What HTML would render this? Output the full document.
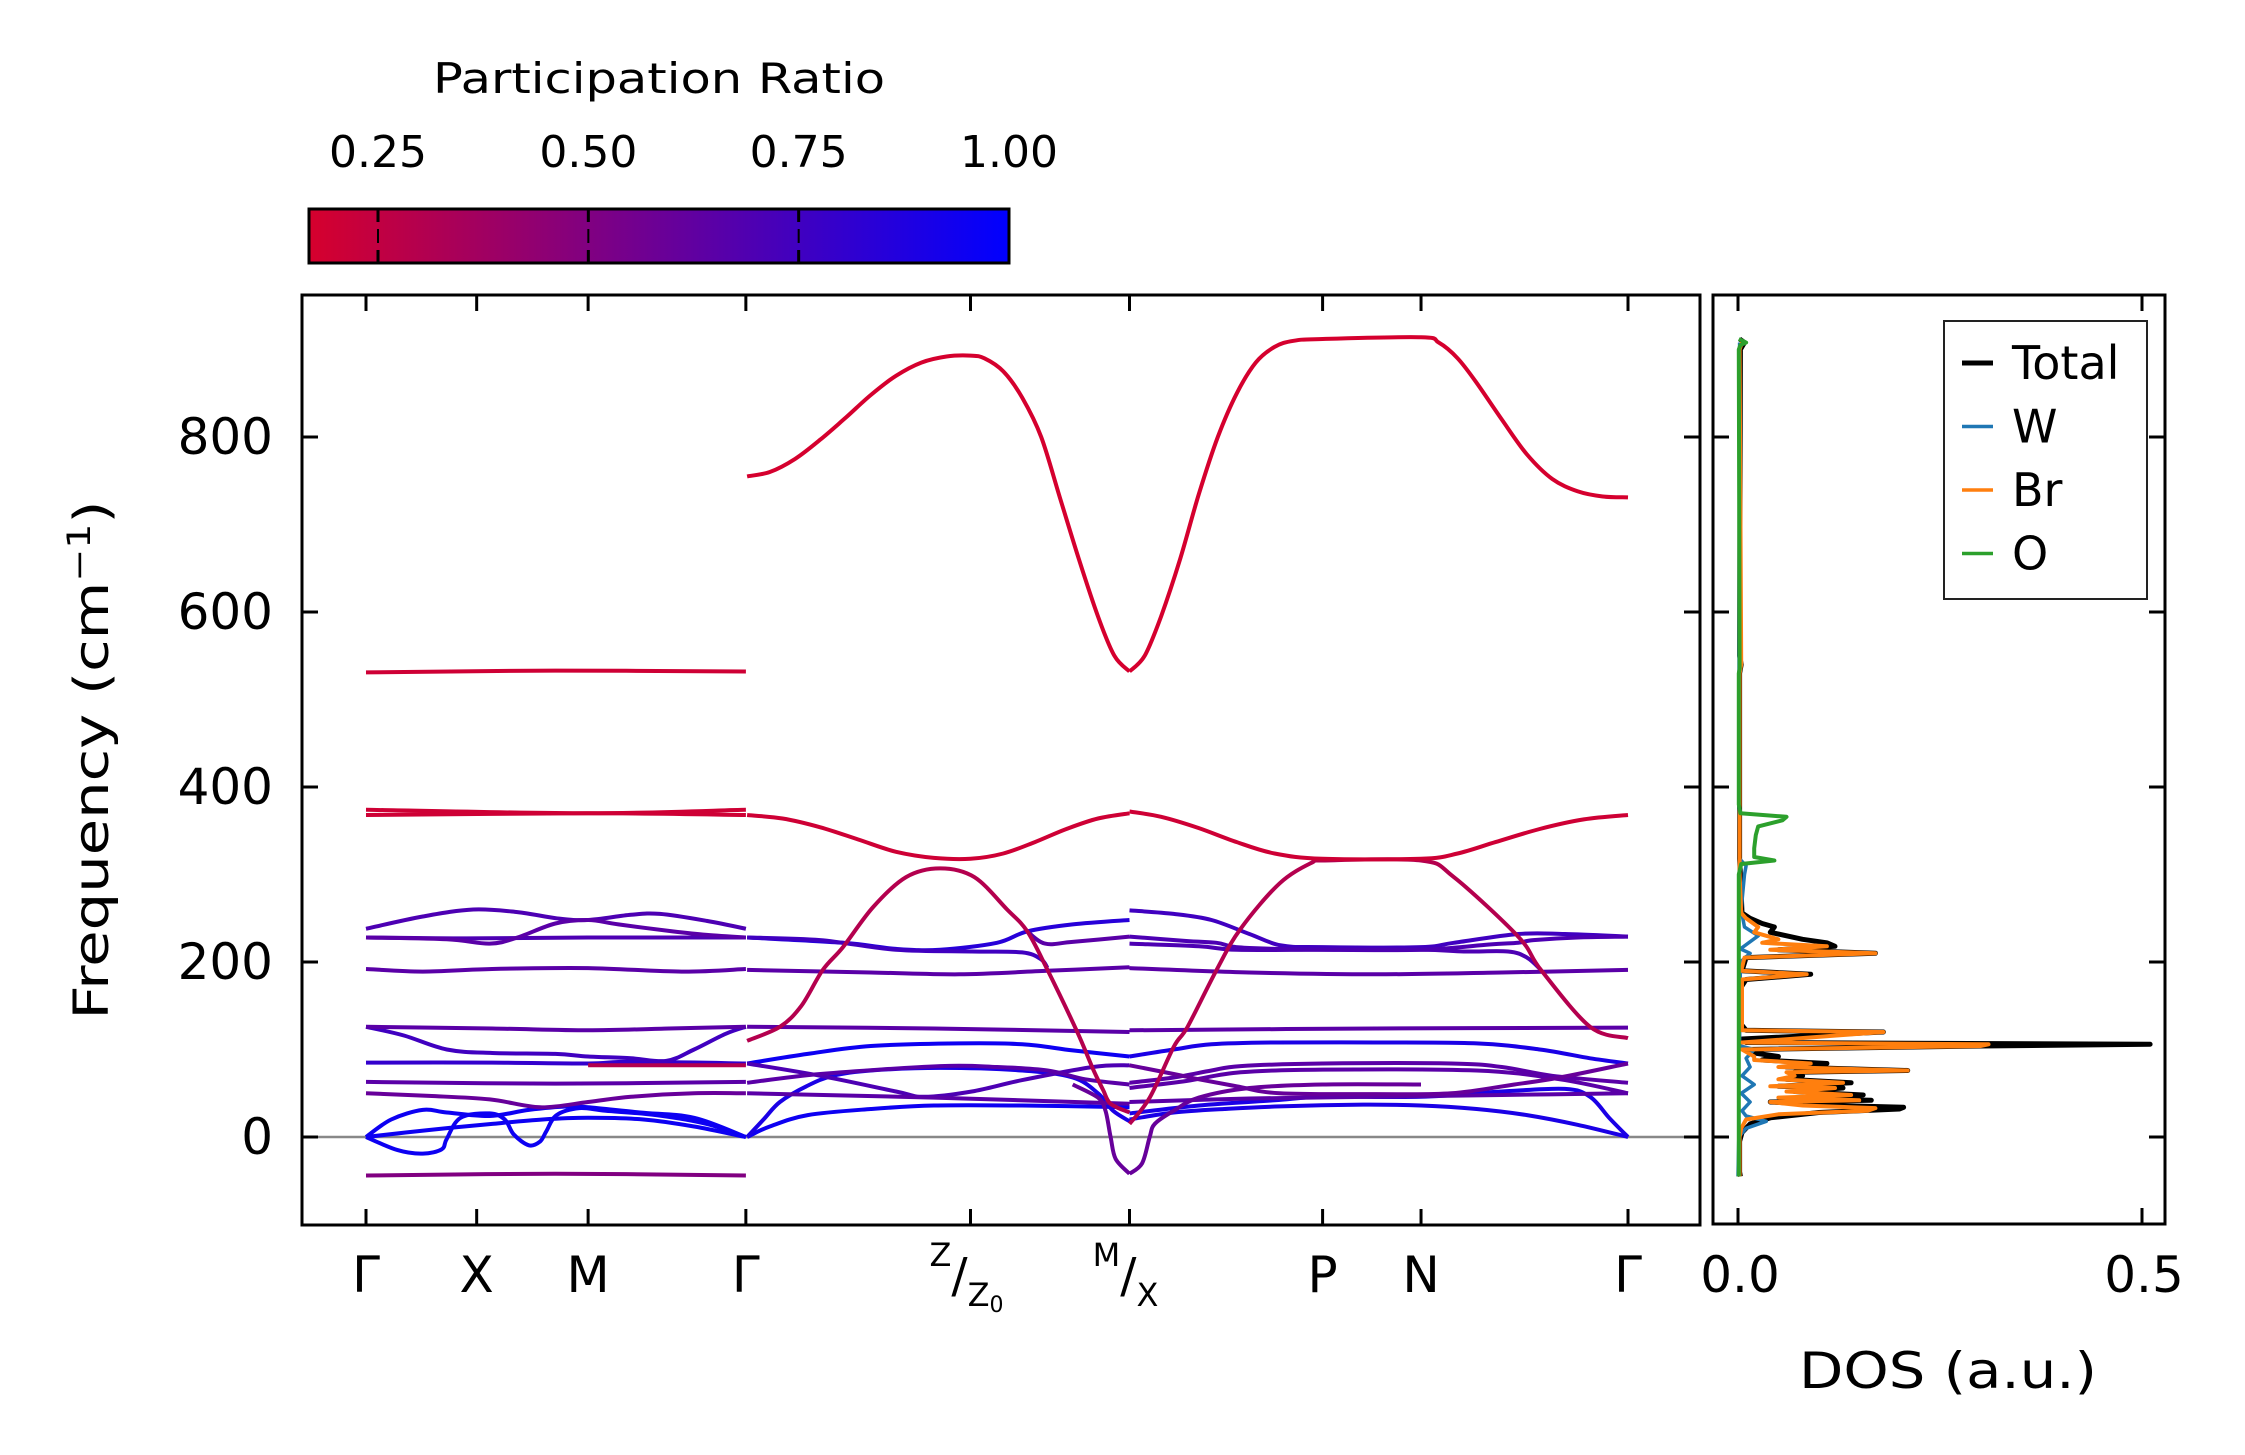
<!DOCTYPE html>
<html><head><meta charset="utf-8"><style>
html,body{margin:0;padding:0;background:#fff;}
svg{display:block;font-family:"DejaVu Sans","Liberation Sans",sans-serif;}
</style></head><body>
<svg id="chart" width="2245" height="1455" viewBox="0 0 2245 1455" xmlns="http://www.w3.org/2000/svg">
<rect width="2245" height="1455" fill="#fff"/>
<defs>
<linearGradient id="cbgrad" x1="0" x2="1" y1="0" y2="0">
<stop offset="0" stop-color="rgb(214,0,45)"/>
<stop offset="0.5" stop-color="rgb(107,0,150)"/>
<stop offset="1" stop-color="rgb(0,0,255)"/>
</linearGradient>
<clipPath id="mainclip"><rect x="302" y="295" width="1398" height="930"/></clipPath>
<clipPath id="dosclip"><rect x="1713" y="295" width="452" height="929"/></clipPath>
</defs>
<g id="colorbar">
<text x="659" y="93" font-size="42" text-anchor="middle" textLength="452" lengthAdjust="spacingAndGlyphs">Participation Ratio</text>
<rect x="309" y="209" width="700" height="54" fill="url(#cbgrad)" stroke="#000" stroke-width="3"/>
<g id="cbticks"></g>
</g>
<g id="main">
<line x1="302" x2="1700" y1="1137" y2="1137" stroke="#888" stroke-width="2.5"/>
<g id="bands" clip-path="url(#mainclip)"></g>
<rect x="302" y="295" width="1398" height="930" fill="none" stroke="#000" stroke-width="3"/>
<g id="mainticks"></g>
<text transform="translate(108,760) rotate(-90)" font-size="48" text-anchor="middle" textLength="519" lengthAdjust="spacingAndGlyphs">Frequency (cm<tspan font-size="32" dy="-18">−1</tspan><tspan dy="18">)</tspan></text>
</g>
<g id="dos">
<g id="doslines" clip-path="url(#dosclip)"></g>
<rect x="1713" y="295" width="452" height="929" fill="none" stroke="#000" stroke-width="3"/>
<g id="dosticks"></g>
<text x="1948" y="1388" font-size="50" text-anchor="middle" textLength="298" lengthAdjust="spacingAndGlyphs">DOS (a.u.)</text>
<g>
<rect x="1944" y="321" width="203" height="278" fill="#fff" stroke="#222" stroke-width="2"/>
<g id="legend"></g>
</g>
</g>
</svg>
<script>
// ---------- data ----------
const kLabels = ["Γ","X","M","Γ","Z/Z0","M/X","P","N","Γ"];
const kTicks = [0, 8.77, 17.6, 30.1, 47.9, 60.5, 75.8, 83.6, 100];
const freqTicks = [0, 200, 400, 600, 800];
const cbTicks = [0.25, 0.5, 0.75, 1.0];
const cbTickLabels = ["0.25","0.50","0.75","1.00"];
const dosTicks = [0.0, 0.5];
const dosTickLabels = ["0.0","0.5"];

// band knots: [q, frequency]; one participation ratio per band
const band01 = [[0,531],[15,533],[30.1,532]];
const band02 = [[0,374],[17.6,370],[30.1,374]];
const band03 = [[0,368],[17.6,370],[30.1,368]];
const band04 = [[0,238],[4.5,252],[8.5,260],[12,257],[15.1,250],[17.6,248],[21,254],[23.3,255],[27,247],[30.1,238]];
const band05 = [[0,228],[6.4,226],[9.8,221],[12,228],[15,244],[17.6,248],[20,243],[24.3,235],[27,231],[30.1,228]];
const band06 = [[0,228],[8,227],[17.6,228],[30.1,228]];
const band07 = [[0,192],[4.5,189],[10,192],[17.6,193],[25,189],[30.1,192]];
const band08 = [[0,126],[10,124],[17.6,122],[24,124],[30.1,126]];
const band09 = [[0,126],[3,116],[6.4,100],[10,96],[15,95],[17.6,92],[21,90],[23.8,87],[26,100],[28.5,118],[30.1,126]];
const band10 = [[0,85],[10,85],[17.6,84],[21,86],[30.1,84]];
const band11 = [[17.6,82],[24,82],[30.1,82]];
const band12 = [[0,63],[15,61],[30.1,63]];
const band13 = [[0,50],[5,47],[9.8,43],[13.8,34],[17.6,40],[21,46],[26,50],[30.1,50]];
const band14 = [[0,0],[2,20],[4.5,31],[6.4,28],[9.8,24],[12.9,31],[16,35],[17.6,34],[21.7,28],[26,22],[30.1,0]];
const band15 = [[0,0],[2.5,-15],[4.5,-19],[6,-14],[6.4,-2],[7.5,22],[9.8,27],[11,20],[11.7,3],[12.9,-9.5],[13.8,-5],[14.3,7],[15.1,25],[16.9,33],[19,30],[23,25],[27,15],[30.1,0]];
const band16 = [[0,0],[5,8],[10,15],[14,20],[17.6,22],[22,20],[26,12],[30.1,0]];
const band17 = [[0,-44],[15,-42],[30.1,-44]];
// Γ - Z - M
const band18 = [[30.2,755],[32,760],[34,775],[36,797],[38,822],[40,848],[42,870],[44,885],[46,892],[47.9,893],[49,890],[50.5,875],[52,845],[53.5,800],[55,730],[56.5,660],[58,595],[59.3,550],[60.5,532]];
const band19 = [[30.2,368],[33,364],[36,354],[39,340],[42,326],[45,319],[47.9,318],[50.5,324],[53,337],[55.5,352],[58,364],[60.5,370]];
const band20 = [[30.2,110],[32.8,126],[34.5,150],[36.2,191],[37.8,217],[40.2,263],[42.8,297],[45.5,307],[48.2,297],[50.8,260],[52.4,235],[54,191],[56.3,122],[57.6,78],[58.4,54],[59,38],[60.5,28]];
const band21 = [[30.2,228],[37.8,222],[42,215],[45.5,214],[50,222],[52.4,235],[56,243],[60.5,248]];
const band22 = [[30.2,228],[36,225],[42,214],[48,212],[52,211],[53.5,203],[54,193]];
const band23 = [[52.4,235],[53.8,221],[56,223],[60.5,229]];
const band24 = [[30.2,191],[40,188],[47,186],[54,190],[60.5,194]];
const band25 = [[30.2,126],[45,124],[60.5,120]];
const band26 = [[30.2,84],[35,95],[40,104],[47,107],[52,106],[56,99],[60.5,92]];
const band27 = [[30.2,84],[36,70],[42,52],[44.2,46],[48,52],[52,65],[57.6,80],[60.5,82]];
const band28 = [[30.2,62],[36,72],[45.5,81],[50,80],[54,76],[57,66],[60.5,60]];
const band29 = [[30.2,50],[45,45],[60.5,38]];
const band30 = [[30.2,0],[32,12],[35,25],[40,32],[45,36],[52,36],[60.5,34]];
const band31 = [[30.2,0],[31.5,20],[32.8,40],[34.9,58],[37,70],[40,76],[45.5,79],[52,76],[56,68],[58,50],[59.2,30],[60.5,18]];
const band32 = [[56,60],[58,45],[58.6,30],[59,0],[59.4,-25],[60.5,-42]];
// X - P - N - Γ
const band33 = [[60.5,532],[61.7,550],[63,595],[64.5,660],[66,735],[67.5,800],[69,850],[70.5,885],[72,903],[73.5,910],[75.8,912],[83.6,914],[85,908],[86.5,890],[88,862],[90,820],[92,780],[94,752],[96,738],[98,732],[100,731]];
const band34 = [[60.5,372],[63,366],[66,353],[69,337],[72,324],[75.8,318],[83.6,318],[86.5,324],[89.5,337],[93,352],[96.5,363],[100,368]];
const band35 = [[60.5,15],[62.1,45],[64,103],[65.1,126],[67.4,191],[69.3,238],[72.4,290],[75,314],[75.8,316],[83.6,316],[86.2,297],[91.3,229],[93.1,191],[97,126],[100,113]];
const band36 = [[60.5,259],[64,255],[67,248],[70,232],[72.5,219],[75.8,217],[83.6,217],[86.2,222],[91.3,232],[95,232],[100,229]];
const band37 = [[60.5,229],[65,224],[67.4,222],[68.5,218],[70,216],[75.8,214],[83.6,214],[89,220],[91.3,222],[92.5,225],[96,228],[100,229]];
const band38 = [[60.5,221],[66,218],[69,214],[75.8,214],[83.6,214],[87,212],[90.5,212],[92,205],[93.1,191]];
const band39 = [[60.5,193],[70,188],[80,186],[90,188],[100,191]];
const band40 = [[60.5,122],[80,124],[100,125]];
const band41 = [[60.5,92],[64,100],[67,106],[72,108],[80,108],[88,107],[93,100],[97,90],[100,84]];
const band42 = [[60.5,82],[64,72],[66,66],[69,58],[72.4,50],[80,49],[86,50],[91,60],[94.6,68],[100,84]];
const band43 = [[60.5,62],[64,68],[67,76],[69.3,81],[75.8,84],[86,84],[90,80],[94,70],[100,62]];
const band44 = [[60.5,56],[65,64],[69.3,74],[75.8,77],[88,76],[94.6,66],[100,50]];
const band45 = [[60.5,40],[70,44],[80,46],[90,48],[100,50]];
const band46 = [[60.5,20],[64,28],[68,32],[72.4,35],[79,37],[83.6,36],[88,32],[92,25],[96,14],[100,0]];
const band47 = [[60.5,27],[66,36],[72,42],[75.8,46],[83.6,46],[90,52],[95,55],[97,46],[98.5,22],[100,0]];
const band48 = [[60.5,-42],[61.5,-30],[62.1,0],[62.5,15],[64,30],[66,45],[70,56],[75.8,60],[83.6,60]];

const bands = [band01,band02,band03,band04,band05,band06,band07,band08,band09,band10,band11,band12,band13,band14,band15,band16,band17,band18,band19,band20,band21,band22,band23,band24,band25,band26,band27,band28,band29,band30,band31,band32,band33,band34,band35,band36,band37,band38,band39,band40,band41,band42,band43,band44,band45,band46,band47,band48];
const bandPR = [0.2,0.2,0.2,0.7,0.65,0.7,0.65,0.65,0.75,0.8,0.3,0.65,0.6,0.95,0.95,0.95,0.5,
 0.17,0.2,0.3,0.85,0.75,0.65,0.65,0.65,0.95,0.7,0.65,0.65,0.95,0.9,0.6,
 0.17,0.2,0.3,0.75,0.7,0.7,0.65,0.65,0.9,0.6,0.65,0.65,0.65,0.9,0.9,0.6];

// DOS: [frequency, value]
const dosTotal = [[-45,0.003],[-40,0.002],[-5,0.002],[5,0.005],[15,0.015],[22,0.04],[28,0.1],[32,0.2],[34,0.205],[36,0.12],[40,0.04],[42,0.165],[44,0.06],[48,0.155],[52,0.07],[56,0.13],[58,0.05],[62,0.14],[66,0.06],[70,0.08],[74,0.07],[76,0.21],[80,0.06],[84,0.11],[88,0.03],[92,0.05],[96,0.02],[100,0.01],[104,0.3],[106,0.51],[108,0.01],[112,0.005],[120,0.18],[122,0.01],[130,0.003],[170,0.003],[180,0.01],[186,0.09],[190,0.005],[205,0.01],[210,0.17],[214,0.05],[218,0.12],[222,0.11],[226,0.08],[234,0.04],[240,0.045],[244,0.03],[250,0.015],[256,0.005],[300,0.003],[318,0.002],[360,0.002],[530,0.002],[540,0.004],[550,0.002],[900,0.003],[908,0.008],[912,0.002]];
const dosBr = [[-45,0.002],[0,0.002],[10,0.004],[20,0.01],[26,0.05],[30,0.16],[33,0.17],[36,0.08],[40,0.04],[42,0.15],[45,0.05],[48,0.14],[52,0.06],[56,0.12],[58,0.04],[62,0.13],[66,0.05],[70,0.07],[74,0.06],[76,0.21],[80,0.05],[84,0.09],[88,0.02],[92,0.02],[100,0.005],[104,0.3],[106,0.31],[108,0.005],[120,0.18],[122,0.005],[180,0.005],[186,0.085],[190,0.004],[205,0.008],[210,0.17],[214,0.04],[218,0.11],[222,0.03],[226,0.05],[234,0.02],[240,0.025],[250,0.01],[256,0.004],[300,0.002],[370,0.002],[530,0.002],[540,0.004],[900,0.002],[908,0.005]];
const dosW = [[-45,0],[0,0.001],[10,0.01],[18,0.035],[24,0.01],[30,0.005],[40,0.015],[50,0.004],[60,0.02],[70,0.005],[80,0.015],[90,0.01],[100,0.02],[104,0.003],[110,0.002],[200,0.003],[210,0.015],[215,0.003],[230,0.025],[240,0.008],[250,0.006],[260,0.004],[300,0.008],[310,0.01],[318,0.002],[400,0.001],[908,0.002]];
const dosO = [[-45,0.001],[0,0.001],[300,0.001],[312,0.004],[316,0.045],[320,0.02],[330,0.02],[345,0.022],[355,0.025],[362,0.055],[366,0.06],[370,0.003],[380,0.001],[530,0.001],[535,0.002],[900,0.001],[905,0.003],[908,0.01],[912,0.001]];
const legendLabels = ["Total","W","Br","O"];
const legendColors = ["#000000","#1f77b4","#ff7f0e","#2ca02c"];

// ---------- scales ----------
const NS = "http://www.w3.org/2000/svg";
function X(q){ return 366 + q*12.62; }
function Y(f){ return 1137 - f*0.875; }
function DX(d){ return 1738 + d*808; }
function CB(p){ return 378 + (p-0.25)*(1009-378)/0.75; }
function prColor(p){
  const t = Math.max(0, Math.min(1, (p-0.168)/(1-0.168)));
  const r = Math.round(214*(1-t)), b = Math.round(45 + 210*t);
  return "rgb("+r+",0,"+b+")";
}
function mk(tag, attrs, parent){
  const e = document.createElementNS(NS, tag);
  for (const k in attrs) e.setAttribute(k, attrs[k]);
  parent.appendChild(e); return e;
}
function smoothPath(pts){
  let d = "M"+pts[0][0].toFixed(1)+","+pts[0][1].toFixed(1);
  for (let i=0;i<pts.length-1;i++){
    const p0 = pts[i-1]||pts[i], p1 = pts[i], p2 = pts[i+1], p3 = pts[i+2]||p2;
    const c1x = p1[0]+(p2[0]-p0[0])/6, c1y = p1[1]+(p2[1]-p0[1])/6;
    const c2x = p2[0]-(p3[0]-p1[0])/6, c2y = p2[1]-(p3[1]-p1[1])/6;
    d += " C"+c1x.toFixed(1)+","+c1y.toFixed(1)+" "+c2x.toFixed(1)+","+c2y.toFixed(1)+" "+p2[0].toFixed(1)+","+p2[1].toFixed(1);
  }
  return d;
}

// ---------- bands ----------
const gB = document.getElementById("bands");
const order = bands.map((b,i)=>i).sort((a,b)=>bandPR[b]-bandPR[a]);
order.forEach(i=>{
  const pts = bands[i].map(p=>[X(p[0]), Y(p[1])]);
  const el = mk("path", {d: smoothPath(pts), fill:"none", stroke: prColor(bandPR[i]), "stroke-width":"4", "stroke-linecap":"butt"}, gB);
  
  
});

// ---------- main ticks ----------
const gT = document.getElementById("mainticks");
freqTicks.forEach(f=>{
  const y = Y(f);
  mk("line",{x1:302,x2:318,y1:y,y2:y,stroke:"#000","stroke-width":3},gT);
  mk("line",{x1:1684,x2:1700,y1:y,y2:y,stroke:"#000","stroke-width":3},gT);
  const t = mk("text",{x:273,y:y+17,"font-size":50,"text-anchor":"end"},gT);
  t.textContent = String(f);
  
  
});
kTicks.forEach((q,i)=>{
  const x = X(q);
  mk("line",{x1:x,x2:x,y1:295,y2:311,stroke:"#000","stroke-width":3},gT);
  mk("line",{x1:x,x2:x,y1:1209,y2:1225,stroke:"#000","stroke-width":3},gT);
  const lab = kLabels[i];
  let t;
  if (lab.indexOf("/")>0){
    const parts = lab.split("/");
    t = mk("text",{x:x-4,y:1292,"font-size":48,"text-anchor":"middle"},gT);
    const s1 = mk("tspan",{"font-size":32,dy:-26},t); s1.textContent = parts[0];
    const s2 = mk("tspan",{"font-size":48,dy:26},t); s2.textContent = "/";
    const main = parts[1].replace("0","");
    const s3 = mk("tspan",{"font-size":32,dy:14},t); s3.textContent = main;
    if (parts[1].indexOf("0")>0){ const s4 = mk("tspan",{"font-size":22,dy:6},t); s4.textContent = "0"; }
  } else {
    t = mk("text",{x:x,y:1292,"font-size":50,"text-anchor":"middle"},gT);
    t.textContent = lab;
  }
  
  
});

// ---------- colorbar ticks ----------
const gC = document.getElementById("cbticks");
cbTicks.forEach((p,i)=>{
  const x = CB(p);
  mk("line",{x1:x,x2:x,y1:209,y2:222,stroke:"#000","stroke-width":3},gC);
  mk("line",{x1:x,x2:x,y1:250,y2:263,stroke:"#000","stroke-width":3},gC);
  if (i<3) mk("line",{x1:x,x2:x,y1:229,y2:243,stroke:"#000","stroke-width":2},gC);
  const t = mk("text",{x:x,y:167,"font-size":44,"text-anchor":"middle"},gC);
  t.textContent = cbTickLabels[i];
  
  
});

// ---------- DOS ----------
const gD = document.getElementById("doslines");
function dosLine(arr, color, w, name){
  const pts = arr.map(p=>[DX(p[1]), Y(p[0])]);
  let d = "M"+pts.map(p=>p[0].toFixed(1)+","+p[1].toFixed(1)).join(" L");
  const el = mk("path",{d:d,fill:"none",stroke:color,"stroke-width":w,"stroke-linejoin":"round"},gD);
  
  
}
dosLine(dosTotal,"#000",5,"dos-total-line");
dosLine(dosW,"#1f77b4",3.5,"dos-w-line");
dosLine(dosBr,"#ff7f0e",4,"dos-br-line");
dosLine(dosO,"#2ca02c",4,"dos-o-line");
const gDT = document.getElementById("dosticks");
freqTicks.forEach(f=>{
  const y = Y(f);
  mk("line",{x1:1713,x2:1729,y1:y,y2:y,stroke:"#000","stroke-width":3},gDT);
  mk("line",{x1:2149,x2:2165,y1:y,y2:y,stroke:"#000","stroke-width":3},gDT);
});
dosTicks.forEach((d,i)=>{
  const x = DX(d);
  mk("line",{x1:x,x2:x,y1:295,y2:311,stroke:"#000","stroke-width":3},gDT);
  mk("line",{x1:x,x2:x,y1:1208,y2:1224,stroke:"#000","stroke-width":3},gDT);
  const t = mk("text",{x:x+2,y:1292,"font-size":50,"text-anchor":"middle"},gDT);
  t.textContent = dosTickLabels[i];
  
  
});
const gL = document.getElementById("legend");
legendLabels.forEach((lab,i)=>{
  const y = 363 + i*63.5;
  const h = mk("line",{x1:1962,x2:1993,y1:y,y2:y,stroke:legendColors[i],"stroke-width":i==0?5:3.5},gL);
  
  
  const t = mk("text",{x:2012,y:y+16,"font-size":46},gL);
  t.textContent = lab;
  
  
});
</script>
</body></html>
